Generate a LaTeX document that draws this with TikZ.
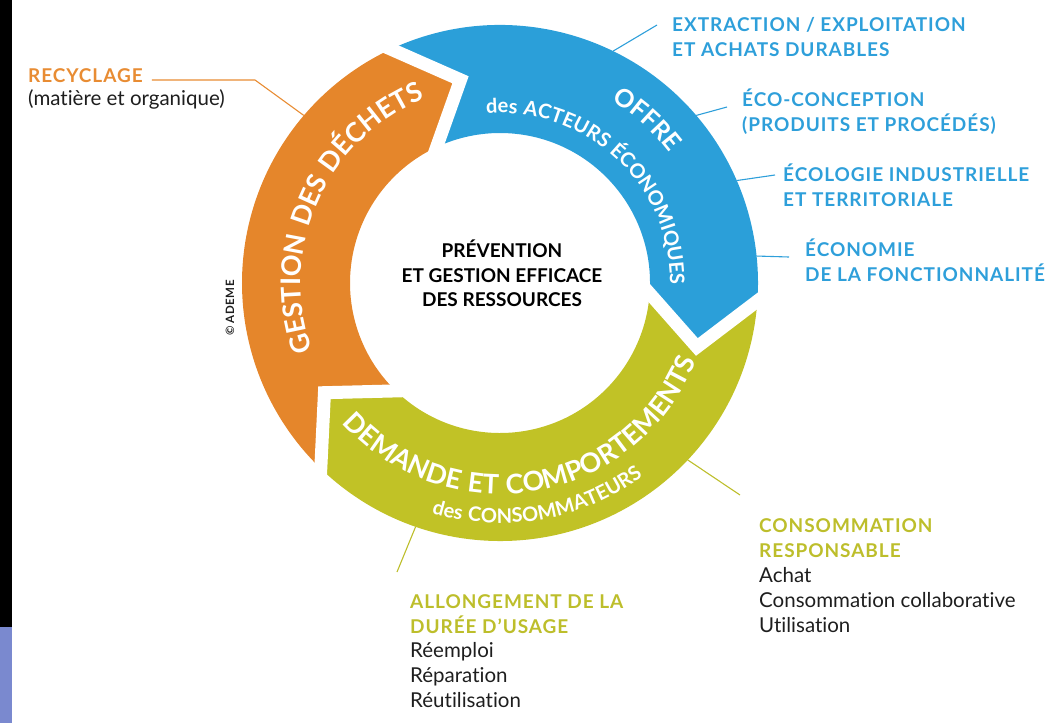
\documentclass[tikz,border=0pt]{standalone}
\usepackage{fontspec}
\setmainfont{Lato}[Ligatures={NoCommon}]
\newfontfamily\capsfont[LetterSpace=5,Ligatures={NoCommon}]{Lato}
\usetikzlibrary{calc,decorations.text}

\definecolor{ringorange}{HTML}{E5862B}
\definecolor{ringblue}{HTML}{2B9FD9}
\definecolor{ringgreen}{HTML}{C1C226}
\definecolor{labblue}{HTML}{2E9FDA}
\definecolor{laborange}{HTML}{E88C33}
\definecolor{labgreen}{HTML}{BDBE2B}
\definecolor{bodytext}{HTML}{1E1E1E}
\definecolor{stripblue}{HTML}{7A89CF}

% fonts for the curved ring titles
\newcommand\ringbig{\capsfont\bfseries\fontsize{27}{27}\selectfont}
\newcommand\ringmid{\capsfont\bfseries\fontsize{25}{25}\selectfont}
\newcommand\ringsmall{\capsfont\bfseries\fontsize{20}{20}\selectfont}

% one coloured arrow of the ring: #1 colour, #2 start junction, #3 end junction
\newcommand\ringpiece[3]{%
  \fill[#1] ($(C)+(#2:258pt)$) arc[start angle=#2, end angle=#3, radius=258pt]
    -- ($(C)+({#3-14}:207pt)$) -- ($(C)+(#3:150pt)$)
    arc[start angle=#3, end angle=#2, radius=150pt]
    -- ($(C)+({#2-14}:207pt)$) -- cycle;}

\begin{document}
\begin{tikzpicture}[x=1pt,y=1pt,
  capsl/.style={anchor=base west, inner sep=0pt,
    font=\capsfont\bfseries\fontsize{19}{19}\selectfont},
  bluel/.style={capsl, text=labblue},
  greenl/.style={capsl, text=labgreen},
  orangel/.style={capsl, text=laborange},
  bodyl/.style={anchor=base west, inner sep=0pt,
    font=\fontsize{20.5}{20.5}\selectfont, text=bodytext},
  centrel/.style={anchor=base, inner sep=0pt,
    font=\bfseries\fontsize{19}{19}\selectfont, text=black},
  leader/.style={line width=1.1pt},
  gap/.style={white, line width=13pt, line join=miter}]

\useasboundingbox (0,0) rectangle (1064,-723);

% side strip
\fill[black] (0,0) rectangle (12,-627);
\fill[stripblue] (0,-627) rectangle (12,-723);

\coordinate (C) at (500,-283);

% ring arrows: orange -> blue -> green -> orange (clockwise)
\ringpiece{ringorange}{226}{115}
\ringpiece{ringblue}{115}{-4}
\ringpiece{ringgreen}{-4}{-134}

% white chevron gaps between the arrows
\foreach \b in {115,-4,226} {
  \coordinate (gt) at ($(C)+({\b-14}:207pt)$);
  \coordinate (gi) at ($(C)+(\b:150pt)$);
  \coordinate (go) at ($(C)+(\b:258pt)$);
  \draw[gap] ($(gt)!1.4!(gi)$) -- (gt) -- ($(gt)!1.4!(go)$);
}

% curved titles
\path[decorate, decoration={text along path, text align=center, text color=white,
  text={|\ringbig|GESTION DES DÉCHETS}}]
  ($(C)+(226:199pt)$) arc[start angle=226, end angle=86, radius=199pt];
\path[decorate, decoration={text along path, text align=center, text color=white,
  text={|\ringmid|OFFRE}}]
  ($(C)+(118:214pt)$) arc[start angle=118, end angle=-22, radius=214pt];
\path[decorate, decoration={text along path, text align=center, text color=white,
  text={|\ringsmall|des ACTEURS ÉCONOMIQUES}}]
  ($(C)+(137:170pt)$) arc[start angle=137, end angle=-43, radius=170pt];
\path[decorate, decoration={text along path, text align=center, text color=white,
  text={|\ringbig|DEMANDE ET COMPORTEMENTS}}]
  ($(C)+(190:211pt)$) arc[start angle=190, end angle=370, radius=211pt];
\path[decorate, decoration={text along path, text align=center, text color=white,
  text={|\ringsmall|des CONSOMMATEURS}}]
  ($(C)+(210:240pt)$) arc[start angle=210, end angle=350, radius=240pt];

% centre
\node[centrel] (prev1) at (502,-257) {PRÉVENTION};
\node[centrel] (prev2) at (502,-282) {ET GESTION EFFICACE};
\node[centrel] (prev3) at (502,-306.5) {DES RESSOURCES};

% copyright
\node[inner sep=0pt, rotate=90, font=\capsfont\bfseries\fontsize{11.5}{11.5}\selectfont,
  text=bodytext] (copy) at (230,-308) {© ADEME};

% waste management label
\node[orangel] (recy1) at (28,-82) {RECYCLAGE};
\node[bodyl] (recy2) at (28,-105) {(matière et organique)};
\coordinate (recyK) at (255,-80);
\coordinate (recyR) at ($(C)+(139.5:258pt)$);
\draw[leader, laborange] ([xshift=9pt,yshift=2pt]recy1.base east) -- (recyK) -- (recyR);

% supply side labels
\node[bluel] (ext1) at (672,-31.5) {EXTRACTION / EXPLOITATION};
\node[bluel] (ext2) at (672,-56.5) {ET ACHATS DURABLES};
\node[bluel] (eco1) at (742,-106.5) {ÉCO-CONCEPTION};
\node[bluel] (eco2) at (742,-131) {(PRODUITS ET PROCÉDÉS)};
\node[bluel] (ecol1) at (783,-181.5) {ÉCOLOGIE INDUSTRIELLE};
\node[bluel] (ecol2) at (783,-206.5) {ET TERRITORIALE};
\node[bluel] (fonc1) at (805,-256.5) {ÉCONOMIE};
\node[bluel] (fonc2) at (805,-281.5) {DE LA FONCTIONNALITÉ};

\coordinate (extE) at (657,-25);   \coordinate (extR) at ($(C)+(64:258pt)$);
\coordinate (ecoE) at (727,-107);  \coordinate (ecoR) at ($(C)+(40.5:258pt)$);
\coordinate (ecolE) at (775,-175); \coordinate (ecolR) at ($(C)+(23.4:258pt)$);
\coordinate (foncE) at (789,-257); \coordinate (foncR) at ($(C)+(6:258pt)$);
\draw[leader, labblue] (extR) -- (extE);
\draw[leader, labblue] (ecoR) -- (ecoE);
\draw[leader, labblue] (ecolR) -- (ecolE);
\draw[leader, labblue] (foncR) -- (foncE);

% demand side labels
\node[greenl] (cons1) at (759,-532) {CONSOMMATION};
\node[greenl] (cons2) at (759,-557) {RESPONSABLE};
\node[bodyl] (cons3) at (759,-582) {Achat};
\node[bodyl] (cons4) at (759,-607) {Consommation collaborative};
\node[bodyl] (cons5) at (759,-632) {Utilisation};

\node[greenl] (all1) at (410,-608) {ALLONGEMENT DE LA};
\node[greenl] (all2) at (410,-633) {DURÉE D’USAGE};
\node[bodyl] (all3) at (410,-657.5) {Réemploi};
\node[bodyl] (all4) at (410,-682.5) {Réparation};
\node[bodyl] (all5) at (410,-707) {Réutilisation};

\coordinate (consE) at (740,-495); \coordinate (consR) at ($(C)+(-43.3:258pt)$);
\coordinate (allE) at (397,-572);  \coordinate (allR) at ($(C)+(250.9:258pt)$);
\draw[leader, labgreen] (consR) -- (consE);
\draw[leader, labgreen] (allR) -- (allE);

\end{tikzpicture}
\end{document}
